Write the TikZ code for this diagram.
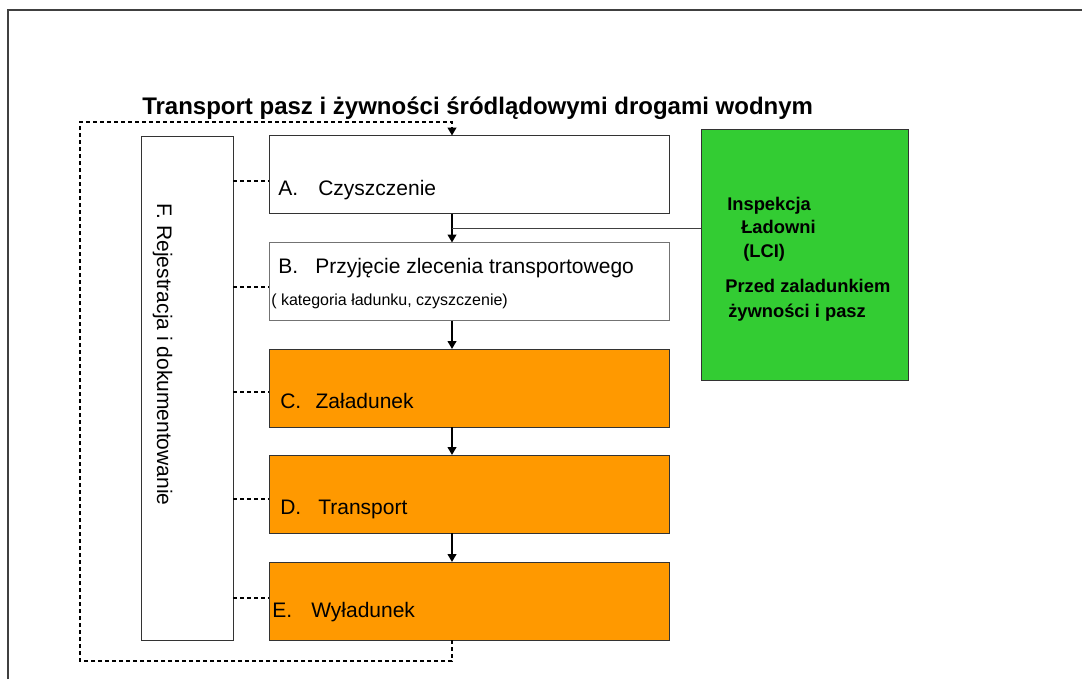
\documentclass[tikz,border=0pt]{standalone}
\usepackage{fontspec}
\setmainfont{Liberation Sans}
\usetikzlibrary{arrows.meta}
\definecolor{orangeC}{HTML}{FF9900}
\definecolor{greenC}{HTML}{33CC33}
\begin{document}
\begin{tikzpicture}[x=0.75pt,y=-0.75pt,
  box/.style={draw=black!80, line width=0.75pt, inner sep=0pt, outer sep=0pt, minimum width=300pt, minimum height=58.5pt},
  whitebox/.style={box, fill=white},
  orangebox/.style={box, fill=orangeC},
  flow/.style={line width=1.5pt, -{Triangle[length=6pt,width=6.5pt]}},
  link/.style={line width=1.5pt, dash pattern=on 3pt off 2.25pt},
  steptext/.style={anchor=base west, inner sep=0pt, font=\fontsize{15.75}{18}\selectfont},
  smalltext/.style={anchor=base west, inner sep=0pt, font=\fontsize{12}{14}\selectfont},
  greentext/.style={anchor=base west, inner sep=0pt, font=\fontsize{13.75}{16}\selectfont\bfseries},
]
\useasboundingbox (0,0) rectangle (1082,679);
% outer frame (only top and left visible)
\draw[black!75, line width=1.5pt] (8,679) -- (8,10) -- (1082,10);

% title
\node[anchor=base west, inner sep=0pt, font=\fontsize{18}{20}\selectfont\bfseries] (title) at (142,114) {Transport pasz i żywności śródlądowymi drogami wodnym};

% boxes
\node[whitebox, minimum width=69pt, minimum height=378pt] (F) at (187,388) {};
\node[whitebox] (A) at (469,174.5) {};
\node[whitebox, draw=black!55] (B) at (469,281.5) {};
\node[orangebox] (C) at (469,388) {};
\node[orangebox] (D) at (469,494) {};
\node[orangebox] (E) at (469,601) {};
\node[box, fill=greenC, minimum width=155.25pt, minimum height=188.25pt] (G) at (804.5,254.5) {};

% texts
\node[rotate=-90, anchor=base west, inner sep=0pt, font=\fontsize{15.75}{18}\selectfont] (Ft) at (157,203) {F. Rejestracja i dokumentowanie};
\node[steptext] (At) at (278,195) {\makebox[30pt][l]{A.}Czyszczenie};
\node[steptext] (Bt) at (278,273) {\makebox[27.75pt][l]{B.}Przyjęcie zlecenia transportowego};
\node[smalltext] (Bs) at (271,305) {( kategoria ładunku, czyszczenie)};
\node[steptext] (Ct) at (280,408) {\makebox[26.5pt][l]{C.}Załadunek};
\node[steptext] (Dt) at (280,514) {\makebox[28.5pt][l]{D.}Transport};
\node[steptext] (Et) at (272,617) {\makebox[29.25pt][l]{E.}Wyładunek};

\node[greentext] (g1) at (727,210) {Inspekcja};
\node[greentext] (g2) at (741,233) {Ładowni};
\node[greentext] (g3) at (743,257) {(LCI)};
\node[greentext] (g4) at (725,292) {Przed zaladunkiem};
\node[greentext] (g5) at (728,317) {żywności i pasz};

% coordinates
\coordinate (ax) at (452,0);
\coordinate (lci) at (452,228);
\coordinate (loopbl) at (80,661);
\coordinate (looptop) at (452,122);
\coordinate (yA) at (0,181);
\coordinate (yB) at (0,287);
\coordinate (yC) at (0,392);
\coordinate (yD) at (0,499);
\coordinate (yE) at (0,598);

% flow arrows
\draw[flow] (A.south -| ax) -- (B.north -| ax);
\draw[flow] (B.south -| ax) -- (C.north -| ax);
\draw[flow] (C.south -| ax) -- (D.north -| ax);
\draw[flow] (D.south -| ax) -- (E.north -| ax);

% line to inspection box
\draw[black!75, line width=0.75pt] (lci) -- (lci -| G.west);

% dashed links F -> steps
\draw[link] (F.east |- yA) -- (A.west |- yA);
\draw[link] (F.east |- yB) -- (B.west |- yB);
\draw[link] (F.east |- yC) -- (C.west |- yC);
\draw[link] (F.east |- yD) -- (D.west |- yD);
\draw[link] (F.east |- yE) -- (E.west |- yE);

% dashed feedback loop
\draw[link, -{Triangle[length=6pt,width=6.5pt]}] (E.south -| ax) |- (loopbl) |- (looptop) -- (A.north -| ax);
\end{tikzpicture}
\end{document}
